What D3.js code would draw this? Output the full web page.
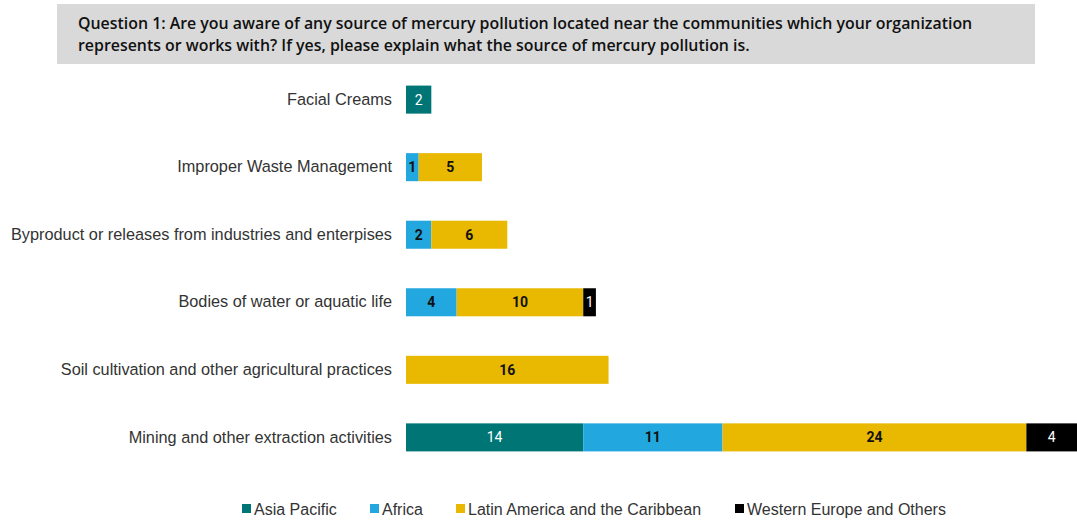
<!DOCTYPE html>
<html><head><meta charset="utf-8">
<script src="https://cdn.jsdelivr.net/npm/d3@7"></script>
<style>body{margin:0;background:#fff}</style>
</head><body>
<svg id="c" width="1077" height="520"></svg>
<script>
const categories = ["Facial Creams","Improper Waste Management","Byproduct or releases from industries and enterpises","Bodies of water or aquatic life","Soil cultivation and other agricultural practices","Mining and other extraction activities"];
const seriesNames = ["Asia Pacific","Africa","Latin America and the Caribbean","Western Europe and Others"];
const asiaPacific = [2,0,0,0,0,14];
const africa = [0,1,2,4,0,11];
const latinAmerica = [0,5,6,10,16,24];
const westernEurope = [0,0,0,1,0,4];
const titleLines = ["Question 1: Are you aware of any source of mercury pollution located near the communities which your organization","represents or works with? If yes, please explain what the source of mercury pollution is."];
const colors = ["#007575","#22a7df","#e8b900","#000000"];
const labelColors = ["#ffffff","#111111","#111111","#ffffff"];

const svg = d3.select("#c");
svg.append("rect").attr("x",57).attr("y",4).attr("width",978).attr("height",60).attr("fill","#d9d9d9");
svg.selectAll("text.title").data(titleLines).enter().append("text")
  .attr("x",78).attr("y",(d,i)=>29+i*22)
  .attr("font-family","'Open Sans', sans-serif").attr("font-weight",600)
  .attr("font-size",15.9).attr("fill","#111").text(d=>d);

const series = [asiaPacific,africa,latinAmerica,westernEurope];
const rows = categories.map((c,i)=>{const o={cat:c}; seriesNames.forEach((s,j)=>o[s]=series[j][i]); return o;});
const stacked = d3.stack().keys(seriesNames)(rows);

const x = d3.scaleLinear().domain([0,53]).range([406,1077]);
const y = d3.scaleBand().domain(categories).range([66,471]).paddingInner(0.585).paddingOuter(0.29);

const g = svg.append("g");
stacked.forEach((layer,j)=>{
  const segs = layer.map((d,i)=>({d0:d[0],d1:d[1],cat:categories[i],v:series[j][i]})).filter(s=>s.v>0);
  g.selectAll(null).data(segs).enter().append("rect")
    .attr("x",s=>x(s.d0)).attr("y",s=>y(s.cat)).attr("width",s=>x(s.d1)-x(s.d0)).attr("height",y.bandwidth())
    .attr("fill",colors[j]);
  g.selectAll(null).data(segs).enter().append("text")
    .attr("x",s=>(x(s.d0)+x(s.d1))/2).attr("y",s=>y(s.cat)+y.bandwidth()/2+5)
    .attr("text-anchor","middle").attr("font-family","Roboto, sans-serif").attr("font-weight",j==1||j==2?700:400)
    .attr("font-size",14).attr("fill",labelColors[j]).text(s=>s.v);
});

const yAxis = svg.append("g").attr("transform","translate(406,0)").call(d3.axisLeft(y).tickSize(0).tickPadding(14));
yAxis.select(".domain").remove();
yAxis.selectAll("text").attr("font-family","'Liberation Sans', Arial, sans-serif")
  .attr("font-size",16.3).attr("fill","#333");

const legX = [242,370,456,735];
const leg = svg.append("g");
seriesNames.forEach((s,j)=>{
  leg.append("rect").attr("x",legX[j]).attr("y",504).attr("width",9).attr("height",9).attr("fill",colors[j]);
  leg.append("text").attr("x",legX[j]+12).attr("y",514.5).attr("font-family","'Liberation Sans', Arial, sans-serif")
    .attr("font-size",16).attr("fill","#333").text(s);
});
</script>
</body></html>
